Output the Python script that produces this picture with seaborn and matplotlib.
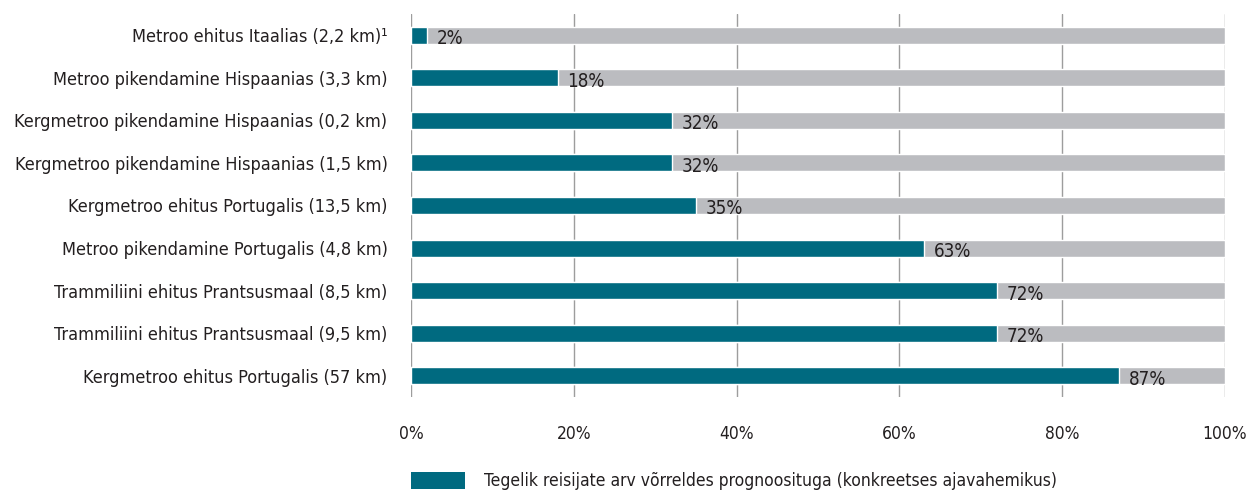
import pandas as pd
import matplotlib
matplotlib.use("Agg")
import matplotlib.pyplot as plt
import seaborn as sns
from matplotlib.patches import Patch

# Data
projects = [
    "Metroo ehitus Itaalias (2,2 km)¹",
    "Metroo pikendamine Hispaanias (3,3 km)",
    "Kergmetroo pikendamine Hispaanias (0,2 km)",
    "Kergmetroo pikendamine Hispaanias (1,5 km)",
    "Kergmetroo ehitus Portugalis (13,5 km)",
    "Metroo pikendamine Portugalis (4,8 km)",
    "Trammiliini ehitus Prantsusmaal (8,5 km)",
    "Trammiliini ehitus Prantsusmaal (9,5 km)",
    "Kergmetroo ehitus Portugalis (57 km)",
]
actual_pct = [2, 18, 32, 32, 35, 63, 72, 72, 87]
full_pct = [100] * len(projects)
legend_label = "Tegelik reisijate arv võrreldes prognoosituga (konkreetses ajavahemikus)"

teal = "#006a80"
grey = "#bbbcc0"

df = pd.DataFrame({"project": projects, "actual": actual_pct, "full": full_pct})

sns.set_style("white")
plt.rcParams["font.family"] = ["DejaVu Sans"]
plt.rcParams["font.stretch"] = "condensed"

fig = plt.figure(figsize=(12.47, 4.91), dpi=100)
ax = fig.add_axes([0.3296, 0.191, 0.6528, 0.781])

sns.barplot(data=df, x="full", y="project", color=grey, saturation=1, width=0.4, ax=ax, zorder=2)
sns.barplot(data=df, x="actual", y="project", color=teal, saturation=1, width=0.4, ax=ax, zorder=3)

# value labels just past the end of each teal bar
for i, v in enumerate(actual_pct):
    ax.text(v + 1.2, i + 0.08, f"{v}%", va="center", ha="left", fontsize=13.5,
            color="#231f20", zorder=4)

ax.set_xlim(0, 100)
ax.set_ylim(len(projects) - 0.5, -0.5)
ax.set_xticks([0, 20, 40, 60, 80, 100])
ax.set_xticklabels([f"{t}%" for t in [0, 20, 40, 60, 80, 100]])
ax.xaxis.grid(True, color="#9d9d9d", linewidth=1.0, zorder=1)
ax.set_axisbelow(True)
for s in ax.spines.values():
    s.set_visible(False)
ax.tick_params(axis="x", length=0, pad=20, labelsize=12.5, labelcolor="#231f20")
ax.tick_params(axis="y", length=0, pad=17, labelsize=13, labelcolor="#231f20")
ax.set_xlabel("")
ax.set_ylabel("")

handle = [Patch(facecolor=teal, edgecolor="none")]
fig.legend(handle, [legend_label], loc="lower left", bbox_to_anchor=(0.317, -0.03),
           frameon=False, fontsize=12.5, handlelength=3.1, handleheight=1.1,
           handletextpad=1.1, labelcolor="#231f20")

fig.savefig("out.png", dpi=100)
